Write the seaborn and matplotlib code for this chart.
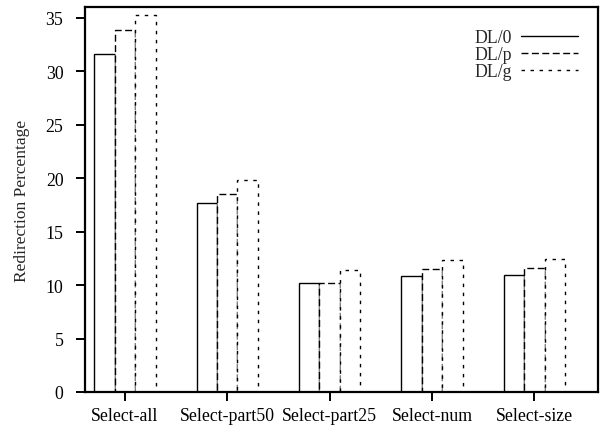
import matplotlib
matplotlib.use("Agg")
import matplotlib.pyplot as plt
from matplotlib.lines import Line2D
import seaborn as sns
import pandas as pd

queries = ["Select-all", "Select-part50", "Select-part25", "Select-num", "Select-size"]
variants = ["DL/0", "DL/p", "DL/g"]
dl_0 = [31.6, 17.7, 10.2, 10.85, 10.95]
dl_p = [33.85, 18.55, 10.2, 11.5, 11.6]
dl_g = [35.25, 19.85, 11.4, 12.3, 12.4]
y_ticks = [0, 5, 10, 15, 20, 25, 30, 35]

rows = []
for name, vals in zip(variants, [dl_0, dl_p, dl_g]):
    for q, v in zip(queries, vals):
        rows.append({"query": q, "variant": name, "value": v})
df = pd.DataFrame(rows)

sns.set_theme(style="ticks")
plt.rcParams["font.family"] = ["Liberation Serif", "DejaVu Serif"]
plt.rcParams["font.size"] = 12.5

styles = {"DL/0": "-", "DL/p": (0, (5, 2.5)), "DL/g": (0, (2.5, 4))}

fig = plt.figure(figsize=(6.05, 4.35), dpi=100)
ax = fig.add_axes([0.1405, 0.0966, 0.8475, 0.885])

sns.barplot(data=df, x="query", y="value", hue="variant", order=queries,
            hue_order=variants, palette=["white"] * 3, width=0.6, gap=0,
            edgecolor="black", linewidth=1.0, legend=False, ax=ax)

for cont, name in zip(ax.containers, variants):
    for patch in cont:
        patch.set_linestyle(styles[name])

ax.set_xlim(-0.39, 4.62)
ax.set_ylim(0, 36)
ax.set_yticks(y_ticks)
ax.set_xlabel("")
ax.set_ylabel("Redirection Percentage", fontsize=12.5, labelpad=11)
for sp in ax.spines.values():
    sp.set_linewidth(1.6)
    sp.set_color("black")
ax.tick_params(axis="both", direction="out", length=6.5, width=1.4,
               colors="black", labelsize=12.8)
ax.tick_params(axis="y", pad=9)
ax.tick_params(axis="x", pad=4)

handles = [Line2D([0], [0], color="black", lw=1.0, linestyle=styles[v]) for v in variants]
ax.legend(handles, variants, loc="upper right", frameon=False, markerfirst=False,
          handlelength=3.2, handletextpad=0.5, labelspacing=0.0,
          borderaxespad=0.0, bbox_to_anchor=(0.975, 0.962), fontsize=12.8)

fig.savefig("out.png", dpi=100)
